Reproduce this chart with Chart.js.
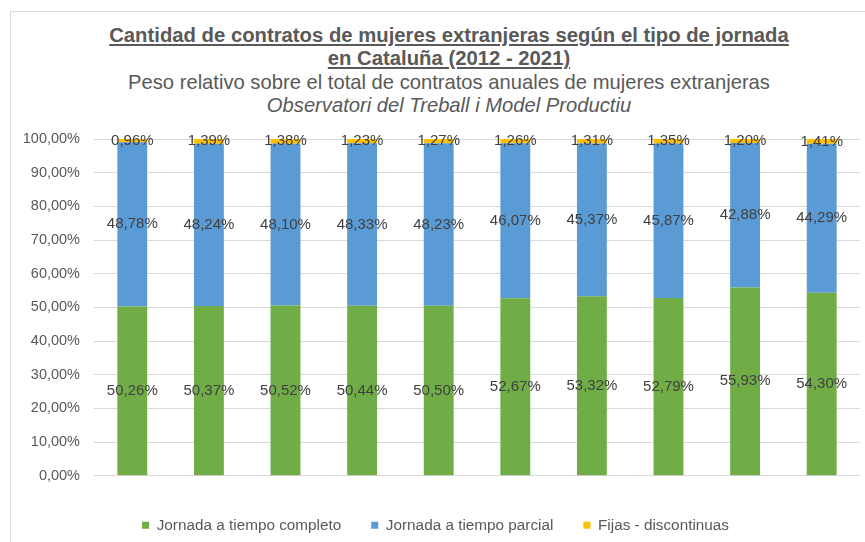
<!DOCTYPE html>
<html>
<head>
<meta charset="utf-8">
<script src="https://cdn.jsdelivr.net/npm/chart.js@4"></script>
<style>
  html, body { margin: 0; padding: 0; background: #fff; width: 865px; height: 542px; overflow: hidden; }
  #box { position: absolute; left: 10px; top: 11px; width: 876px; height: 560px; border: 1px solid #d9d9d9; background: #fff; }
  #title { position: absolute; left: 0; top: 12px; width: 876px; text-align: center; color: #595959;
           font-family: "Liberation Sans", Arial, sans-serif; line-height: 23.3px; }
  #title .main { font-weight: bold; font-size: 20.3px; text-decoration: underline; text-underline-offset: 2px; }
  #title .sub { font-size: 20.2px; }
  #title .src { font-size: 20.2px; font-style: italic; }
  canvas { position: absolute; left: 0; top: 0; }
</style>
</head>
<body>
<div id="box">
  <div id="title">
    <div class="main">Cantidad de contratos de mujeres extranjeras según el tipo de jornada</div>
    <div class="main">en Cataluña (2012 - 2021)</div>
    <div class="sub">Peso relativo sobre el total de contratos anuales de mujeres extranjeras</div>
    <div class="src">Observatori del Treball i Model Productiu</div>
  </div>
  <canvas id="chart" width="876" height="531"></canvas>
</div>
<script>
// Data
const years = ['2012', '2013', '2014', '2015', '2016', '2017', '2018', '2019', '2020', '2021'];
const tiempoCompleto = [50.26, 50.37, 50.52, 50.44, 50.50, 52.67, 53.32, 52.79, 55.93, 54.30];
const tiempoParcial = [48.78, 48.24, 48.10, 48.33, 48.23, 46.07, 45.37, 45.87, 42.88, 44.29];
const fijasDiscontinuas = [0.96, 1.39, 1.38, 1.23, 1.27, 1.26, 1.31, 1.35, 1.20, 1.41];
const yTicks = [0, 10, 20, 30, 40, 50, 60, 70, 80, 90, 100];

const FONT = '"Liberation Sans", Arial, sans-serif';

function pct(v) {
    return v.toFixed(2).replace('.', ',') + '%';
}

// Simple data label plugin: value centred on each bar segment
const segmentLabels = {
    id: 'segmentLabels',
    afterDatasetsDraw(chart) {
        const ctx = chart.ctx;
        ctx.save();
        ctx.font = '15px ' + FONT;
        ctx.fillStyle = '#404040';
        ctx.textAlign = 'center';
        ctx.textBaseline = 'middle';
        chart.data.datasets.forEach((ds, i) => {
            const meta = chart.getDatasetMeta(i);
            meta.data.forEach((bar, j) => {
                const y = (bar.y + bar.base) / 2;
                ctx.fillText(pct(ds.data[j]), bar.x, y);
            });
        });
        ctx.restore();
    }
};

new Chart(document.getElementById('chart'), {
    type: 'bar',
    data: {
        labels: years,
        datasets: [
            { label: 'Jornada a tiempo completo', data: tiempoCompleto, backgroundColor: '#70AD47' },
            { label: 'Jornada a tiempo parcial', data: tiempoParcial, backgroundColor: '#5B9BD5' },
            { label: 'Fijas - discontinuas', data: fijasDiscontinuas, backgroundColor: '#FFC000' }
        ]
    },
    options: {
        responsive: false,
        animation: false,
        devicePixelRatio: 1,
        layout: { padding: { top: 127, right: 27, bottom: 0, left: 0 } },
        datasets: {
            bar: { categoryPercentage: 1, barPercentage: 0.39, borderWidth: 0 }
        },
        plugins: {
            legend: {
                position: 'bottom',
                labels: {
                    boxWidth: 7,
                    boxHeight: 7,
                    padding: 30,
                    color: '#595959',
                    font: { family: FONT, size: 15.3 }
                }
            },
            tooltip: { enabled: false }
        },
        scales: {
            x: {
                stacked: true,
                grid: { display: false, drawTicks: false },
                border: { display: false },
                ticks: { color: '#595959', padding: 11, font: { family: FONT, size: 14 } },
                afterFit: function (scale) { scale.height = 12; }
            },
            y: {
                stacked: true,
                min: 0,
                max: 100,
                afterBuildTicks: function (scale) {
                    scale.ticks = yTicks.map(v => ({ value: v }));
                },
                grid: { color: '#d9d9d9', lineWidth: 1, drawTicks: false },
                border: { display: false },
                ticks: {
                    color: '#595959',
                    padding: 14,
                    font: { family: FONT, size: 14.5 },
                    callback: function (value) { return pct(value); }
                },
                afterFit: function (scale) { scale.width = 83; }
            }
        }
    },
    plugins: [segmentLabels]
});
</script>
</body>
</html>
